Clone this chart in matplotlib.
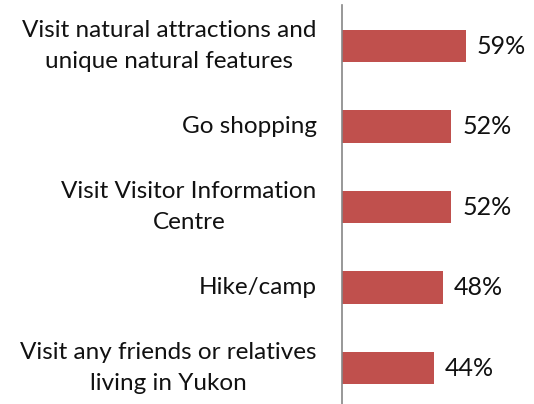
import matplotlib
matplotlib.use("Agg")
import matplotlib.pyplot as plt

# -----------------------
# Data
# -----------------------
activities = [
    "Visit natural attractions and\nunique natural features",
    "Go shopping",
    "Visit Visitor Information\nCentre",
    "Hike/camp",
    "Visit any friends or relatives\nliving in Yukon",
]
shares = [59, 52, 52, 48, 44]

bar_color = "#C0504D"
axis_color = "#868686"

plt.rcParams['font.family'] = ['Lato', 'DejaVu Sans']

# -----------------------
# Figure
# -----------------------
fig = plt.figure(figsize=(5.34, 4.04), dpi=100)
ax = fig.add_axes([341.5 / 534, 0.0, 1 - 341.5 / 534, 1 - 5 / 404])

ypos = list(range(len(activities)))
ax.barh(ypos, shares, height=0.4, color=bar_color)

ax.set_xlim(0, 192.5 / 2.105)
ax.set_ylim(4 + 36 / 80.5, -0.51)

for y, v in zip(ypos, shares):
    ax.annotate(f"{v}%", xy=(v, y), xytext=(8, 0), textcoords="offset points",
                va="center", ha="left", fontsize=18, color="#111111")

ax.set_yticks(ypos)
ax.set_yticklabels(activities, fontsize=17.5, color="#111111",
                   linespacing=1.55)
for lab in ax.get_yticklabels():
    lab.set_multialignment("center")
    lab.set_verticalalignment("center")
ax.tick_params(axis="y", length=0, pad=18)
ax.set_xticks([])

for side in ["top", "right", "bottom"]:
    ax.spines[side].set_visible(False)
ax.spines["left"].set_color(axis_color)
ax.spines["left"].set_linewidth(1.2)

fig.savefig("out.png", dpi=100)
